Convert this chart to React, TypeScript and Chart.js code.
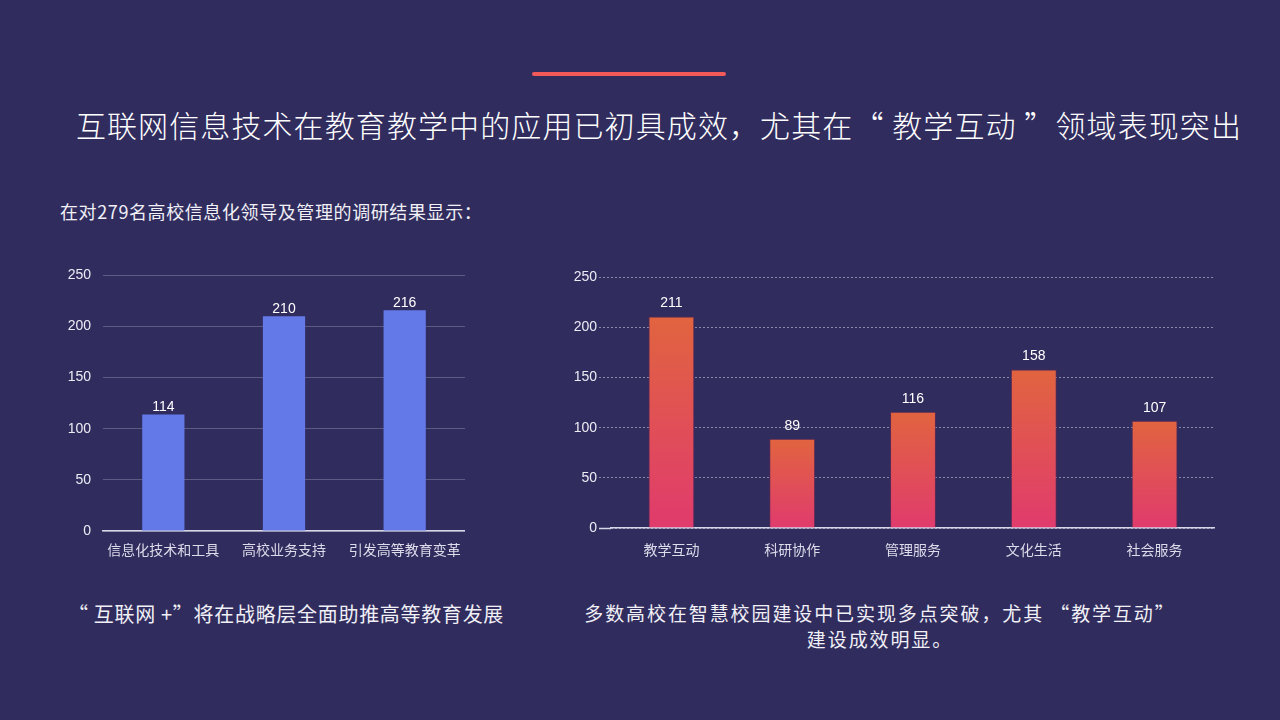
import { useEffect, useRef } from "react";
import { Chart, registerables } from "chart.js";

Chart.register(...registerables);

// left chart: 279 leaders surveyed
const leftCategories = ["信息化技术和工具", "高校业务支持", "引发高等教育变革"];
const leftValues = [114, 210, 216];

// right chart: smart campus areas
const rightCategories = ["教学互动", "科研协作", "管理服务", "文化生活", "社会服务"];
const rightValues = [211, 89, 116, 158, 107];

const yTicks = [0, 50, 100, 150, 200, 250];

const BG = "#312c5e";
const NUM_FONT = "'Liberation Sans', Arial, sans-serif";
const CJK_FONT = "'Noto Sans CJK SC', 'Noto Sans', sans-serif";

// draws the value above each bar
function valueLabels(offset: number, size: number) {
  return {
    id: "valueLabels",
    afterDatasetsDraw(chart: Chart) {
      const { ctx } = chart;
      const meta = chart.getDatasetMeta(0);
      const data = chart.data.datasets[0].data as number[];
      ctx.save();
      ctx.fillStyle = "#ffffff";
      ctx.font = `${size}px ${NUM_FONT}`;
      ctx.textAlign = "center";
      ctx.textBaseline = "bottom";
      meta.data.forEach((bar, i) => {
        ctx.fillText(String(data[i]), bar.x, bar.y - offset);
      });
      ctx.restore();
    },
  };
}

function BarChart(props: {
  labels: string[];
  values: number[];
  kind: "blue" | "gradient";
}) {
  const canvasRef = useRef<HTMLCanvasElement>(null);
  const chartRef = useRef<Chart | null>(null);

  useEffect(() => {
    if (!canvasRef.current) return;
    if (chartRef.current) chartRef.current.destroy();
    const ctx = canvasRef.current.getContext("2d");
    if (!ctx) return;

    const blue = props.kind === "blue";

    const gradientFill = (c: any) => {
      const y = c.chart.scales?.y;
      if (!y || c.raw == null) return "#e05a55";
      const top = y.getPixelForValue(c.raw);
      const bottom = y.getPixelForValue(0);
      if (!Number.isFinite(top) || !Number.isFinite(bottom) || top === bottom) return "#e05a55";
      const g = c.chart.ctx.createLinearGradient(0, top, 0, bottom);
      g.addColorStop(0, "#e1643f");
      g.addColorStop(1, "#e03b6d");
      return g;
    };

    const gridGray = blue ? "#5b5b83" : "#8a8aa6";
    const isZero = (c: any) => c.tick && c.tick.value === 0;

    chartRef.current = new Chart(ctx, {
      type: "bar",
      data: {
        labels: props.labels,
        datasets: [
          {
            data: props.values,
            backgroundColor: blue ? "#6479e8" : gradientFill,
            borderColor: blue ? "#6479e8" : "rgba(110, 40, 80, 0.7)",
            borderWidth: blue ? 0 : 1,
            barPercentage: blue ? 0.35 : 0.38,
            categoryPercentage: 1,
          },
        ],
      },
      options: {
        responsive: true,
        maintainAspectRatio: false,
        animation: false,
        layout: { padding: { top: 10, right: 0, left: 0, bottom: 0 } },
        plugins: {
          legend: { display: false },
          tooltip: { enabled: false },
        },
        scales: {
          x: {
            grid: { display: false, drawTicks: false },
            border: { display: true, color: "#d6d6e6", width: 1.5 },
            afterFit: (axis: any) => {
              axis.height = 34;
              axis.paddingLeft = 0;
              axis.paddingRight = 0;
            },
            ticks: {
              color: "#dcdcea",
              font: { family: CJK_FONT, size: 14 },
              padding: blue ? 10 : 13,
              autoSkip: false,
              maxRotation: 0,
            },
          },
          y: {
            min: 0,
            max: 250,
            afterBuildTicks: (axis: any) => {
              axis.ticks = yTicks.map((v) => ({ value: v }));
            },
            afterFit: (axis: any) => {
              axis.width = blue ? 40 : 52;
            },
            border: { display: false, dash: blue ? [] : [2, 2] },
            grid: {
              color: gridGray,
              lineWidth: 1,
              drawTicks: !blue,
              tickLength: 12,
              tickBorderDash: (c: any) => (isZero(c) ? [] : [2, 2]),
              tickWidth: (c: any) => (isZero(c) ? 1.5 : 1),
              tickColor: (c: any) => (isZero(c) ? "#d6d6e6" : gridGray),
            },
            ticks: {
              color: "#ececf4",
              font: { family: NUM_FONT, size: 14 },
              padding: blue ? 12 : 2,
            },
          },
        },
      },
      plugins: [blue ? valueLabels(0, 14) : valueLabels(6, 14)],
    });

    return () => {
      if (chartRef.current) {
        chartRef.current.destroy();
        chartRef.current = null;
      }
    };
  }, []);

  return <canvas ref={canvasRef} />;
}

export default function App() {
  return (
    <div
      style={{
        position: "fixed",
        inset: 0,
        width: 1280,
        height: 720,
        background: BG,
        overflow: "hidden",
        fontFamily: CJK_FONT,
        color: "#ffffff",
      }}
    >
      <div
        style={{
          position: "absolute",
          left: 532,
          top: 72,
          width: 194,
          height: 4,
          borderRadius: 2,
          background: "#f25a5a",
        }}
      />
      <div
        style={{
          position: "absolute",
          left: 0,
          width: 1280,
          top: 102,
          textAlign: "center",
          fontSize: 30,
          fontWeight: 300,
          lineHeight: "44px",
          paddingLeft: 38,
          boxSizing: "border-box",
          letterSpacing: 1.1,
        }}
      >
        互联网信息技术在教育教学中的应用已初具成效，尤其在“ 教学互动 ”领域表现突出
      </div>
      <div
        style={{
          position: "absolute",
          left: 60,
          top: 198,
          fontSize: 18,
          lineHeight: "26px",
          letterSpacing: 0.6,
          color: "#f0f0f6",
        }}
      >
        在对279名高校信息化领导及管理的调研结果显示：
      </div>

      <div style={{ position: "absolute", left: 63, top: 255, width: 402, height: 310 }}>
        <BarChart labels={leftCategories} values={leftValues} kind="blue" />
      </div>
      <div style={{ position: "absolute", left: 559, top: 267, width: 656, height: 295 }}>
        <BarChart labels={rightCategories} values={rightValues} kind="gradient" />
      </div>

      <div
        style={{
          position: "absolute",
          left: 56,
          width: 460,
          top: 600,
          textAlign: "center",
          fontSize: 20,
          lineHeight: "28px",
          letterSpacing: 0.7,
          color: "#f0f0f6",
        }}
      >
        “ 互联网 +”将在战略层全面助推高等教育发展
      </div>
      <div
        style={{
          position: "absolute",
          left: 560,
          width: 640,
          top: 600,
          textAlign: "center",
          fontSize: 19,
          lineHeight: "26px",
          letterSpacing: 1.9,
          color: "#f0f0f6",
        }}
      >
        多数高校在智慧校园建设中已实现多点突破，尤其 “教学互动”
        <br />
        建设成效明显。
      </div>
    </div>
  );
}
